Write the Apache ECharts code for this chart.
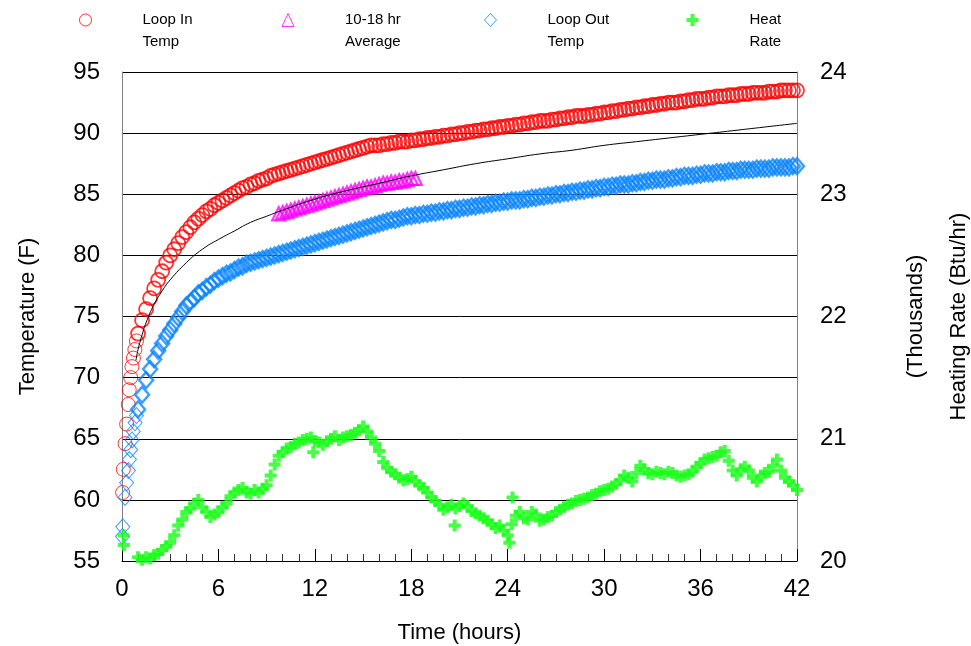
<!DOCTYPE html>
<html><head><meta charset="utf-8">
<script src="https://cdn.jsdelivr.net/npm/echarts@6/dist/echarts.min.js"></script>
<style>html,body{margin:0;padding:0;background:#fff}#chart{width:971px;height:646px}</style>
</head><body><div id="chart"></div>
<script>
const FONT = '"Liberation Sans", Arial, Helvetica, sans-serif';

// ---- x-axis ticks (hours) ----
const hourTicks = [0, 6, 12, 18, 24, 30, 36, 42];

// ---- regular sampling grid used by the logged series (hours) ----
const gridStartHour = 1;
const gridStepHour = 0.25;

// ---- Loop In Temp (F) ----
const loopInEarlyHours = [0.04, 0.08, 0.19, 0.29, 0.39, 0.45, 0.54, 0.62, 0.71, 0.80, 0.90];
const loopInEarlyTemp  = [60.6, 62.5, 64.6, 66.2, 67.8, 69.0, 70.0, 70.9, 71.6, 72.3, 73.0];
const loopInTemp = [
  /* 1h */ 73.6, 74.7, 75.6, 76.5,
  /* 2h */ 77.3, 78.0, 78.7, 79.4,
  /* 3h */ 80.0, 80.5, 81.0, 81.5,
  /* 4h */ 81.9, 82.3, 82.7, 83.0,
  /* 5h */ 83.3, 83.6, 83.8, 84.1,
  /* 6h */ 84.3, 84.5, 84.7, 84.9,
  /* 7h */ 85.1, 85.3, 85.5, 85.6,
  /* 8h */ 85.8, 85.9, 86.1, 86.2,
  /* 9h */ 86.3, 86.5, 86.6, 86.7,
  /*10h */ 86.8, 86.9, 87.0, 87.1,
  /*11h */ 87.2, 87.3, 87.4, 87.5,
  /*12h */ 87.6, 87.7, 87.8, 87.9,
  /*13h */ 88.0, 88.1, 88.2, 88.3,
  /*14h */ 88.4, 88.5, 88.6, 88.7,
  /*15h */ 88.8, 88.9, 89.0, 89.0,
  /*16h */ 89.0, 89.1, 89.1, 89.2,
  /*17h */ 89.2, 89.3, 89.3, 89.3,
  /*18h */ 89.4, 89.4, 89.5, 89.5,
  /*19h */ 89.6, 89.6, 89.7, 89.7,
  /*20h */ 89.8, 89.8, 89.9, 89.9,
  /*21h */ 90.0, 90.0, 90.1, 90.1,
  /*22h */ 90.2, 90.2, 90.3, 90.3,
  /*23h */ 90.4, 90.4, 90.5, 90.5,
  /*24h */ 90.6, 90.6, 90.7, 90.7,
  /*25h */ 90.8, 90.8, 90.9, 90.9,
  /*26h */ 91.0, 91.0, 91.0, 91.1,
  /*27h */ 91.1, 91.2, 91.2, 91.3,
  /*28h */ 91.3, 91.4, 91.4, 91.4,
  /*29h */ 91.5, 91.5, 91.6, 91.6,
  /*30h */ 91.7, 91.7, 91.8, 91.8,
  /*31h */ 91.9, 91.9, 92.0, 92.0,
  /*32h */ 92.1, 92.1, 92.2, 92.2,
  /*33h */ 92.3, 92.3, 92.4, 92.4,
  /*34h */ 92.5, 92.5, 92.5, 92.6,
  /*35h */ 92.6, 92.7, 92.7, 92.8,
  /*36h */ 92.8, 92.8, 92.9, 92.9,
  /*37h */ 93.0, 93.0, 93.0, 93.1,
  /*38h */ 93.1, 93.1, 93.2, 93.2,
  /*39h */ 93.2, 93.3, 93.3, 93.3,
  /*40h */ 93.3, 93.4, 93.4, 93.4,
  /*41h */ 93.5, 93.5, 93.5, 93.5,
  /*42h */ 93.5
];

// ---- Loop Out Temp (F) ----
const loopOutEarlyHours = [0.03, 0.05, 0.19, 0.29, 0.40, 0.46, 0.54, 0.62, 0.70, 0.81, 0.90];
const loopOutEarlyTemp  = [57.0, 57.8, 60.2, 61.4, 62.4, 63.3, 64.1, 64.9, 65.6, 66.3, 66.9];
const loopOutTemp = [
  /* 1h */ 67.4, 68.6, 69.8, 70.7,
  /* 2h */ 71.5, 72.2, 72.8, 73.4,
  /* 3h */ 73.9, 74.4, 74.9, 75.4,
  /* 4h */ 75.9, 76.2, 76.5, 76.9,
  /* 5h */ 77.1, 77.4, 77.6, 77.9,
  /* 6h */ 78.1, 78.3, 78.5, 78.6,
  /* 7h */ 78.8, 79.0, 79.1, 79.3,
  /* 8h */ 79.4, 79.5, 79.6, 79.7,
  /* 9h */ 79.8, 79.9, 80.0, 80.1,
  /*10h */ 80.2, 80.3, 80.4, 80.5,
  /*11h */ 80.6, 80.7, 80.8, 80.9,
  /*12h */ 81.0, 81.1, 81.2, 81.3,
  /*13h */ 81.4, 81.5, 81.6, 81.7,
  /*14h */ 81.8, 81.9, 82.0, 82.1,
  /*15h */ 82.2, 82.3, 82.4, 82.5,
  /*16h */ 82.6, 82.7, 82.8, 82.9,
  /*17h */ 82.9, 83.0, 83.1, 83.2,
  /*18h */ 83.2, 83.3, 83.3, 83.4,
  /*19h */ 83.4, 83.5, 83.5, 83.6,
  /*20h */ 83.6, 83.7, 83.7, 83.8,
  /*21h */ 83.8, 83.9, 83.9, 84.0,
  /*22h */ 84.0, 84.1, 84.1, 84.2,
  /*23h */ 84.2, 84.3, 84.3, 84.4,
  /*24h */ 84.4, 84.5, 84.5, 84.5,
  /*25h */ 84.6, 84.6, 84.7, 84.7,
  /*26h */ 84.8, 84.8, 84.9, 84.9,
  /*27h */ 85.0, 85.0, 85.1, 85.1,
  /*28h */ 85.2, 85.2, 85.3, 85.3,
  /*29h */ 85.4, 85.4, 85.5, 85.5,
  /*30h */ 85.6, 85.6, 85.7, 85.7,
  /*31h */ 85.8, 85.8, 85.8, 85.9,
  /*32h */ 85.9, 86.0, 86.0, 86.1,
  /*33h */ 86.1, 86.2, 86.2, 86.2,
  /*34h */ 86.3, 86.3, 86.4, 86.4,
  /*35h */ 86.5, 86.5, 86.5, 86.6,
  /*36h */ 86.6, 86.7, 86.7, 86.7,
  /*37h */ 86.8, 86.8, 86.8, 86.9,
  /*38h */ 86.9, 86.9, 87.0, 87.0,
  /*39h */ 87.0, 87.0, 87.1, 87.1,
  /*40h */ 87.1, 87.1, 87.2, 87.2,
  /*41h */ 87.2, 87.2, 87.2, 87.3,
  /*42h */ 87.3
];

// ---- 10-18 hr Average (F) ----
const avgStartHour = 9.75;
const avgTemp = [
  83.4, 83.5, 83.6, 83.7, 83.8, 83.9, 84.0, 84.1, 84.2, 84.3,
  84.4, 84.5, 84.6, 84.7, 84.8, 84.9, 85.0, 85.1, 85.2, 85.3,
  85.4, 85.5, 85.6, 85.6, 85.7, 85.8, 85.9, 85.9, 86.0, 86.0,
  86.1, 86.1, 86.2, 86.3, 86.3
];

// ---- Heat Rate (thousands Btu/hr) ----
const heatEarlyHours = [0.10, 0.12];
const heatEarlyRate  = [20.21, 20.13];
const heatRate = [
  /* 1h */ 20.03, 20.01, 20.03, 20.02,
  /* 2h */ 20.05, 20.06, 20.09, 20.12,
  /* 3h */ 20.15, 20.21, 20.29, 20.34,
  /* 4h */ 20.40, 20.43, 20.47, 20.50,
  /* 5h */ 20.44, 20.40, 20.36, 20.38,
  /* 6h */ 20.40, 20.44, 20.47, 20.53,
  /* 7h */ 20.56, 20.58, 20.60, 20.56,
  /* 8h */ 20.55, 20.58, 20.56, 20.59,
  /* 9h */ 20.62, 20.70, 20.79, 20.86,
  /*10h */ 20.89, 20.92, 20.93, 20.96,
  /*11h */ 20.97, 20.99, 21.00, 21.01,
  /*12h */ 20.98, 20.97, 20.95, 20.98,
  /*13h */ 21.00, 21.02, 20.99, 21.01,
  /*14h */ 21.02, 21.03, 21.05, 21.07,
  /*15h */ 21.10, 21.06, 21.01, 20.96,
  /*16h */ 20.90, 20.81, 20.76, 20.73,
  /*17h */ 20.71, 20.68, 20.66, 20.67,
  /*18h */ 20.69, 20.65, 20.62, 20.60,
  /*19h */ 20.56, 20.52, 20.49, 20.46,
  /*20h */ 20.42, 20.44, 20.46, 20.43,
  /*21h */ 20.45, 20.47, 20.45, 20.41,
  /*22h */ 20.39, 20.37, 20.35, 20.33,
  /*23h */ 20.30, 20.27, 20.29, 20.25,
  /*24h */ 20.21, 20.30, 20.37, 20.40,
  /*25h */ 20.35, 20.34, 20.40, 20.38,
  /*26h */ 20.33, 20.34, 20.36, 20.37,
  /*27h */ 20.40, 20.42, 20.44, 20.46,
  /*28h */ 20.47, 20.49, 20.50, 20.51,
  /*29h */ 20.52, 20.54, 20.55, 20.57,
  /*30h */ 20.58, 20.59, 20.61, 20.63,
  /*31h */ 20.66, 20.70, 20.68, 20.65,
  /*32h */ 20.72, 20.78, 20.75, 20.72,
  /*33h */ 20.71, 20.73, 20.72, 20.71,
  /*34h */ 20.73, 20.72, 20.70, 20.69,
  /*35h */ 20.70, 20.71, 20.73, 20.77,
  /*36h */ 20.80, 20.83, 20.84, 20.85,
  /*37h */ 20.86, 20.89, 20.90, 20.82,
  /*38h */ 20.74, 20.70, 20.75, 20.77,
  /*39h */ 20.74, 20.68, 20.65, 20.70,
  /*40h */ 20.72, 20.73, 20.78, 20.83,
  /*41h */ 20.74, 20.68, 20.65, 20.62,
  /*42h */ 20.58
];
const heatOutlierHours = [11.9, 20.7, 24.1, 24.3];
const heatOutlierRate  = [20.89, 20.29, 20.15, 20.52];

// ---- thin black fitted curve (F) ----
const fitHours = [0.87, 1.0, 1.25, 1.5, 2, 2.5, 3, 4, 5, 6, 7, 8, 9, 10, 12, 14, 16, 18, 20, 22, 24, 26, 28, 30, 32, 34, 36, 38, 40, 42];
const fitTemp  = [71.4, 72.3, 73.5, 74.5, 76.0, 77.1, 78.0, 79.4, 80.5, 81.3, 82.0, 82.7, 83.2, 83.7, 84.6, 85.3, 85.9, 86.5, 87.0, 87.5, 87.9, 88.3, 88.6, 89.0, 89.3, 89.6, 89.9, 90.2, 90.5, 90.8];

const legendLabels = {
  'Loop In Temp': '\nLoop In\nTemp',
  '10-18 hr Average': '\n10-18 hr\nAverage',
  'Loop Out Temp': '\nLoop Out\nTemp',
  'Heat Rate': '\nHeat\nRate'
};

function paired(hours, values, style) {
  return hours.map((h, i) => style ? { value: [h, values[i]], itemStyle: style } : [h, values[i]]);
}
function onGrid(values, start) { return values.map((v, i) => [start + i * gridStepHour, v]); }

const PLUS = 'path://M4,0H8V4H12V8H8V12H4V8H0V4H4Z';
const RED = '#FF0000', MAG = '#FF00FF', BLUE = '#0A84FF', GREEN = '#16FF16';
const hollow = (c, w) => ({ color: 'rgba(0,0,0,0)', borderColor: c, borderWidth: w || 1 });

const chart = echarts.init(document.getElementById('chart'), null, { renderer: 'canvas' });
chart.setOption({
  animation: false,
  backgroundColor: '#fff',
  textStyle: { fontFamily: FONT, color: '#000' },
  grid: { left: 122, right: 174, top: 72, bottom: 85, containLabel: false, outerBoundsMode: 'none' },
  legend: {
    data: [
      { name: 'Loop In Temp', icon: 'circle', itemStyle: hollow(RED) },
      { name: '10-18 hr Average', icon: 'triangle', itemStyle: hollow(MAG) },
      { name: 'Loop Out Temp', icon: 'diamond', itemStyle: hollow(BLUE) },
      { name: 'Heat Rate', icon: PLUS, itemStyle: { color: GREEN } }
    ],
    left: 79, top: -13, padding: 0,
    itemWidth: 12, itemHeight: 13, itemGap: 39,
    selectedMode: false,
    formatter: n => legendLabels[n],
    textStyle: { fontFamily: FONT, fontSize: 15, color: '#000', lineHeight: 22, padding: [0, 0, 0, 46], width: 100 }
  },
  xAxis: {
    type: 'value', min: hourTicks[0], max: hourTicks[hourTicks.length - 1], interval: 6,
    axisLine: { show: true, onZero: false, lineStyle: { color: '#000', width: 1 } },
    axisTick: { show: true, inside: true, length: 12, lineStyle: { color: '#000' } },
    minorTick: { show: true, splitNumber: 6, length: 7, lineStyle: { color: '#333' } },
    splitLine: { show: false },
    axisLabel: { fontSize: 24, margin: 16, color: '#000', fontFamily: FONT },
    name: 'Time (hours)', nameLocation: 'middle', nameGap: 61,
    nameTextStyle: { fontSize: 22, color: '#000', fontFamily: FONT }
  },
  yAxis: [
    {
      type: 'value', min: 55, max: 95, interval: 5, position: 'left',
      axisLine: { show: true, lineStyle: { color: '#808080' } },
      axisTick: { show: false },
      splitLine: { show: true, lineStyle: { color: '#000', width: 1 } },
      axisLabel: { fontSize: 24, margin: 22, color: '#000', fontFamily: FONT },
      name: 'Temperature (F)', nameLocation: 'middle', nameGap: 83, nameRotate: 90,
      nameTextStyle: { fontSize: 22, color: '#000', fontFamily: FONT }
    },
    {
      type: 'value', min: 20, max: 24, interval: 1, position: 'right',
      axisLine: { show: true, lineStyle: { color: '#808080' } },
      axisTick: { show: false },
      splitLine: { show: false },
      axisLabel: { fontSize: 24, margin: 23, color: '#000', fontFamily: FONT },
      name: '(Thousands)\nHeating Rate (Btu/hr)', nameLocation: 'middle', nameGap: 97, nameRotate: 90,
      nameTextStyle: { fontSize: 22, color: '#000', fontFamily: FONT, lineHeight: 43, align: 'center' }
    }
  ],
  series: [
    {
      name: 'Loop In Temp', type: 'scatter', yAxisIndex: 0, symbol: 'circle', symbolSize: 14,
      itemStyle: hollow(RED, 1.8), emphasis: { disabled: true }, silent: true,
      data: paired(loopInEarlyHours, loopInEarlyTemp, hollow(RED, 1)).concat(onGrid(loopInTemp, gridStartHour))
    },
    {
      name: '10-18 hr Average', type: 'scatter', yAxisIndex: 0, symbol: 'triangle', symbolSize: 13,
      itemStyle: hollow(MAG, 2.2), emphasis: { disabled: true }, silent: true,
      data: onGrid(avgTemp, avgStartHour)
    },
    {
      name: 'Loop Out Temp', type: 'scatter', yAxisIndex: 0, symbol: 'diamond', symbolSize: [14, 16],
      itemStyle: hollow(BLUE, 2.4), emphasis: { disabled: true }, silent: true,
      data: paired(loopOutEarlyHours, loopOutEarlyTemp, hollow(BLUE, 1)).concat(onGrid(loopOutTemp, gridStartHour))
    },
    {
      name: 'Heat Rate', type: 'scatter', yAxisIndex: 1, symbol: PLUS, symbolSize: 12,
      itemStyle: { color: GREEN }, emphasis: { disabled: true }, silent: true,
      data: paired(heatEarlyHours, heatEarlyRate).concat(onGrid(heatRate, gridStartHour), paired(heatOutlierHours, heatOutlierRate))
    },
    {
      name: 'Fit', type: 'line', yAxisIndex: 0, smooth: true, showSymbol: false, silent: true,
      lineStyle: { color: '#000', width: 1 }, emphasis: { disabled: true },
      data: paired(fitHours, fitTemp)
    }
  ]
});
</script></body></html>
